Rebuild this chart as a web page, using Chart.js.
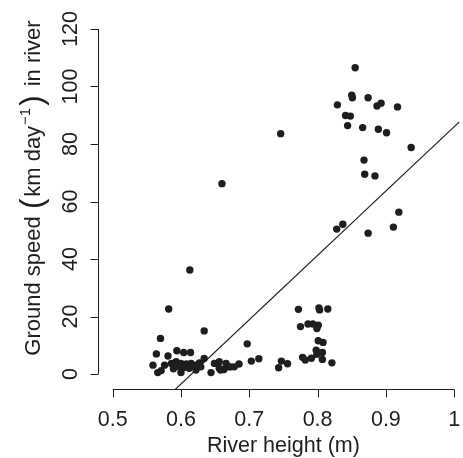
<!DOCTYPE html>
<html>
<head>
<meta charset="utf-8">
<script src="https://cdn.jsdelivr.net/npm/chart.js@4.4.1/dist/chart.umd.min.js"></script>
<style>
  html, body { margin: 0; padding: 0; background: #fff; overflow: hidden; }
  #wrap { width: 463px; height: 458px; }
</style>
</head>
<body>
<div id="wrap"><canvas id="chart" width="463" height="458"></canvas></div>
<script>
// river height (m) and ground speed (km/day)
const riverHeight = [
    0.855, 0.850, 0.851, 0.874, 0.829, 0.887, 0.893, 0.917, 0.841, 0.848,
    0.844, 0.866, 0.889, 0.901, 0.937, 0.868, 0.869, 0.884, 0.746, 0.660,
    0.919, 0.911, 0.874, 0.828, 0.837, 0.613, 0.582, 0.772, 0.802, 0.803,
    0.815, 0.634, 0.570, 0.697, 0.775, 0.786, 0.793, 0.801, 0.799, 0.801,
    0.808, 0.798, 0.807, 0.799, 0.778, 0.782, 0.791, 0.807, 0.821, 0.747,
    0.756, 0.743, 0.703, 0.714, 0.564, 0.581, 0.594, 0.604, 0.614, 0.559,
    0.566, 0.571, 0.576, 0.586, 0.593, 0.600, 0.608, 0.615, 0.622, 0.627,
    0.634, 0.600, 0.612, 0.622, 0.629, 0.644, 0.649, 0.656, 0.663, 0.670,
    0.678, 0.685, 0.656, 0.666, 0.673, 0.658, 0.589, 0.596, 0.604, 0.618
];
const groundSpeed = [
    106.5, 97.0, 96.1, 96.1, 93.6, 93.2, 94.2, 92.9, 89.9, 89.7,
    86.4, 85.7, 85.1, 83.9, 78.8, 74.4, 69.5, 68.9, 83.6, 66.2,
    56.3, 51.1, 49.0, 50.4, 52.1, 36.2, 22.6, 22.5, 23.0, 22.3,
    22.6, 15.0, 12.4, 10.5, 16.5, 17.4, 17.4, 17.0, 15.8, 11.6,
    11.0, 8.3, 7.5, 6.9, 5.8, 4.9, 5.5, 5.1, 3.9, 4.5,
    3.6, 2.2, 4.5, 5.3, 7.0, 6.3, 8.1, 7.5, 7.5, 3.1,
    0.5, 1.2, 3.1, 3.7, 4.3, 3.7, 3.5, 3.7, 3.1, 3.9,
    5.4, 0.5, 2.0, 1.4, 2.5, 0.5, 3.7, 2.0, 1.6, 2.5,
    2.5, 3.5, 4.3, 3.7, 2.5, 1.4, 1.8, 2.6, 2.3, 2.8
];

const xTickValues = [0.5, 0.6, 0.7, 0.8, 0.9, 1.0];
const xTickLabels = ['0.5', '0.6', '0.7', '0.8', '0.9', '1'];
const yTickValues = [0, 20, 40, 60, 80, 100, 120];
const yTickLabels = ['0', '20', '40', '60', '80', '100', '120'];

// fitted line: speed = a + b * height
const fitIntercept = -137.7;
const fitSlope = 223.7;

const X_MIN = 0.48, X_MAX = 1.0075;
const Y_MIN = -5.2, Y_MAX = 125.2;
const FONT = '"Liberation Sans", Arial, Helvetica, sans-serif';
const INK = '#1e1e1e';

const points = riverHeight.map((h, i) => ({ x: h, y: groundSpeed[i] }));
const fitLine = [X_MIN, X_MAX].map(h => ({ x: h, y: fitIntercept + fitSlope * h }));

// R-style axes: lines only across the tick range, ticks outward
const rAxes = {
    id: 'rAxes',
    afterDraw(chart) {
        const ctx = chart.ctx;
        const xs = chart.scales.x, ys = chart.scales.y;
        const area = chart.chartArea;
        const tick = 8;
        ctx.save();
        ctx.strokeStyle = INK;
        ctx.fillStyle = INK;
        ctx.lineWidth = 1;

        // bottom axis
        const by = Math.round(area.bottom) + 0.5;
        ctx.beginPath();
        ctx.moveTo(xs.getPixelForValue(xTickValues[0]), by);
        ctx.lineTo(xs.getPixelForValue(xTickValues[xTickValues.length - 1]), by);
        xTickValues.forEach(v => {
            const px = Math.round(xs.getPixelForValue(v)) + 0.5;
            ctx.moveTo(px, by);
            ctx.lineTo(px, by + tick);
        });
        ctx.stroke();
        ctx.font = '21.5px ' + FONT;
        ctx.textAlign = 'center';
        ctx.textBaseline = 'alphabetic';
        xTickValues.forEach((v, i) => {
            ctx.fillText(xTickLabels[i], xs.getPixelForValue(v), 425.5);
        });
        ctx.fillText('River height (m)', (xs.getPixelForValue(0.5) + xs.getPixelForValue(1.0)) / 2, 452);

        // left axis
        const lx = Math.round(area.left) - 0.5;
        ctx.beginPath();
        ctx.moveTo(lx, ys.getPixelForValue(yTickValues[0]));
        ctx.lineTo(lx, ys.getPixelForValue(yTickValues[yTickValues.length - 1]));
        yTickValues.forEach(v => {
            const py = Math.round(ys.getPixelForValue(v)) + 0.5;
            ctx.moveTo(lx, py);
            ctx.lineTo(lx - tick, py);
        });
        ctx.stroke();
        yTickValues.forEach((v, i) => {
            ctx.save();
            ctx.translate(77, ys.getPixelForValue(v));
            ctx.rotate(-Math.PI / 2);
            ctx.fillText(yTickLabels[i], 0, 0);
            ctx.restore();
        });

        // y title with superscript and tall brackets
        const base = '22px ' + FONT;
        const big = '31px ' + FONT;
        const sup = '15px ' + FONT;
        const parts = [
            { t: 'Ground speed ', f: base, dy: 0, gap: 1 },
            { t: '(', f: big, dy: 2, gap: 2 },
            { t: 'km day', f: base, dy: 0, gap: 1 },
            { t: '\u22121', f: sup, dy: -10, gap: 2 },
            { t: ')', f: big, dy: 2, gap: 3 },
            { t: ' in river', f: base, dy: 0, gap: 0 }
        ];
        let total = 0;
        parts.forEach(p => { ctx.font = p.f; p.w = ctx.measureText(p.t).width + p.gap; total += p.w; });
        ctx.save();
        ctx.translate(40, 188);
        ctx.rotate(-Math.PI / 2);
        ctx.textAlign = 'left';
        let cx = -total / 2;
        parts.forEach(p => {
            ctx.font = p.f;
            ctx.fillText(p.t, cx, p.dy);
            cx += p.w;
        });
        ctx.restore();
        ctx.restore();
    }
};

new Chart(document.getElementById('chart'), {
    type: 'scatter',
    data: {
        datasets: [
            {
                data: points,
                backgroundColor: INK,
                borderWidth: 0,
                pointRadius: 3.7,
                pointHoverRadius: 3.7
            },
            {
                type: 'line',
                data: fitLine,
                borderColor: INK,
                borderWidth: 1.2,
                pointRadius: 0,
                fill: false,
                tension: 0
            }
        ]
    },
    options: {
        responsive: false,
        animation: false,
        events: [],
        layout: { padding: { left: 99, right: 0, top: 14, bottom: 69 } },
        plugins: { legend: { display: false }, tooltip: { enabled: false } },
        scales: {
            x: { type: 'linear', min: X_MIN, max: X_MAX, display: false },
            y: { type: 'linear', min: Y_MIN, max: Y_MAX, display: false }
        }
    },
    plugins: [rAxes]
});
</script>
</body>
</html>
